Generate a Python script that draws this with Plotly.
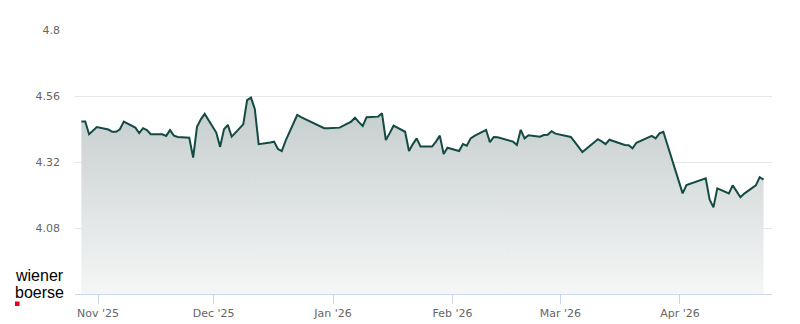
import pandas as pd
import plotly.graph_objects as go

# ---- data ----
dates = [
    "2025-10-27", "2025-10-28", "2025-10-29", "2025-10-30", "2025-10-31",
    "2025-11-03", "2025-11-04", "2025-11-05", "2025-11-06", "2025-11-07",
    "2025-11-10", "2025-11-11", "2025-11-12", "2025-11-13", "2025-11-14",
    "2025-11-17", "2025-11-18", "2025-11-19", "2025-11-20", "2025-11-21",
    "2025-11-24", "2025-11-25", "2025-11-26", "2025-11-27", "2025-11-28",
    "2025-12-01", "2025-12-02", "2025-12-03", "2025-12-04", "2025-12-05",
    "2025-12-08", "2025-12-09", "2025-12-10", "2025-12-11", "2025-12-12",
    "2025-12-15", "2025-12-16", "2025-12-17", "2025-12-18", "2025-12-19",
    "2025-12-22", "2025-12-23", "2025-12-29", "2025-12-30",
    "2026-01-02", "2026-01-05", "2026-01-06", "2026-01-07", "2026-01-08", "2026-01-09",
    "2026-01-12", "2026-01-13", "2026-01-14", "2026-01-15", "2026-01-16",
    "2026-01-19", "2026-01-20", "2026-01-21", "2026-01-22", "2026-01-23",
    "2026-01-26", "2026-01-27", "2026-01-28", "2026-01-29", "2026-01-30",
    "2026-02-02", "2026-02-03", "2026-02-04", "2026-02-05", "2026-02-06",
    "2026-02-09", "2026-02-10", "2026-02-11", "2026-02-12", "2026-02-13",
    "2026-02-16", "2026-02-17", "2026-02-18", "2026-02-19", "2026-02-20",
    "2026-02-23", "2026-02-24", "2026-02-25", "2026-02-26", "2026-02-27",
    "2026-03-02", "2026-03-03", "2026-03-04", "2026-03-05", "2026-03-06",
    "2026-03-09", "2026-03-10", "2026-03-11", "2026-03-12", "2026-03-13",
    "2026-03-16", "2026-03-17", "2026-03-18", "2026-03-19", "2026-03-20",
    "2026-03-23", "2026-03-24", "2026-03-25", "2026-03-26", "2026-03-27",
    "2026-03-30", "2026-03-31", "2026-04-01", "2026-04-02",
    "2026-04-07", "2026-04-08", "2026-04-09", "2026-04-10",
    "2026-04-13", "2026-04-14", "2026-04-15", "2026-04-16", "2026-04-17",
    "2026-04-20", "2026-04-21", "2026-04-22",
]
prices = [
    4.467, 4.467, 4.421, 4.434, 4.447,
    4.438, 4.430, 4.430, 4.439, 4.467,
    4.445, 4.425, 4.443, 4.436, 4.421,
    4.421, 4.415, 4.436, 4.416, 4.411,
    4.408, 4.336, 4.448, 4.475, 4.495,
    4.427, 4.375, 4.439, 4.455, 4.412,
    4.457, 4.545, 4.554, 4.513, 4.385,
    4.391, 4.394, 4.367, 4.360, 4.398,
    4.491, 4.483, 4.443, 4.443,
    4.445, 4.467, 4.481, 4.465, 4.451, 4.483,
    4.485, 4.497, 4.400, 4.425, 4.452,
    4.430, 4.360, 4.385, 4.406, 4.376,
    4.376, 4.394, 4.416, 4.349, 4.372,
    4.360, 4.385, 4.379, 4.406, 4.415,
    4.437, 4.392, 4.411, 4.410, 4.406,
    4.394, 4.382, 4.437, 4.406, 4.417,
    4.412, 4.418, 4.419, 4.432, 4.423,
    4.415, 4.411, 4.393, 4.376, 4.356,
    4.391, 4.403, 4.395, 4.385, 4.401,
    4.386, 4.382, 4.381, 4.370, 4.390,
    4.408, 4.415, 4.406, 4.424, 4.430,
    4.298, 4.251, 4.206, 4.236,
    4.261, 4.184, 4.155, 4.224,
    4.206, 4.235, 4.215, 4.192, 4.205,
    4.235, 4.265, 4.256,
]
tick_dates = ["2025-11-01", "2025-12-01", "2026-01-01", "2026-02-01", "2026-03-01", "2026-04-01"]
tick_labels = ["Nov '25", "Dec '25", "Jan '26", "Feb '26", "Mar '26", "Apr '26"]
y_ticks = [4.08, 4.32, 4.56, 4.8]
y_labels = ["4.08", "4.32", "4.56", "4.8"]

# closing timestamps (market close, 16:30 UTC)
x = pd.to_datetime(dates) + pd.Timedelta(hours=16, minutes=30)

LINE = "#134a44"
PL, PR, PT, PB = 75, 28, 30, 30
PW, PH = 800 - PL - PR, 324 - PT - PB

fig = go.Figure()
fig.add_trace(go.Scatter(
    x=x, y=prices, mode="lines",
    line=dict(color=LINE, width=2),
    fill="tozeroy",
    fillgradient=dict(
        type="vertical",
        colorscale=[[0, "rgb(245,246,246)"], [1, "rgb(195,204,203)"]],
        start=3.84, stop=4.56,
    ),
    hoverinfo="skip",
    showlegend=False,
))

fig.update_layout(
    width=800, height=324,
    margin=dict(l=PL, r=PR, t=PT, b=PB),
    paper_bgcolor="white", plot_bgcolor="white",
    font=dict(family="DejaVu Sans", size=11, color="#666666"),
    xaxis=dict(
        type="date",
        range=["2025-10-26 00:46", "2026-04-24 21:07"],
        tickvals=tick_dates, ticktext=tick_labels,
        showgrid=False, zeroline=False, automargin=False,
        showline=True, linecolor="#ccd6eb", linewidth=1,
        ticks="outside", ticklen=9, tickcolor="#ccd6eb", tickwidth=1,
        tickfont=dict(family="DejaVu Sans", size=11, color="#666666"),
        fixedrange=True,
    ),
    yaxis=dict(
        range=[3.84, 4.8],
        tickvals=y_ticks, ticktext=y_labels,
        showgrid=True, gridcolor="#e6e6e6", gridwidth=1,
        zeroline=False, showline=False, ticks="", automargin=False,
        ticklabelstandoff=14,
        tickfont=dict(family="DejaVu Sans", size=11, color="#666666"),
        fixedrange=True,
    ),
)

# logo
fig.add_annotation(xref="paper", yref="paper", x=(13 - PL) / PW, y=(PH + PT - 275) / PH,
                   xanchor="left", yanchor="middle", showarrow=False,
                   text="wiener", font=dict(family="Liberation Sans", size=16, color="#000000"))
fig.add_annotation(xref="paper", yref="paper", x=(13 - PL) / PW, y=(PH + PT - 292) / PH,
                   xanchor="left", yanchor="middle", showarrow=False,
                   text="boerse", font=dict(family="Liberation Sans", size=16, color="#000000"))
fig.add_shape(type="rect", xref="paper", yref="paper",
              x0=(15 - PL) / PW, x1=(19.5 - PL) / PW,
              y0=(PH + PT - 306) / PH, y1=(PH + PT - 301.5) / PH,
              fillcolor="#e2001a", line=dict(width=0))

fig.write_html("out.html")
